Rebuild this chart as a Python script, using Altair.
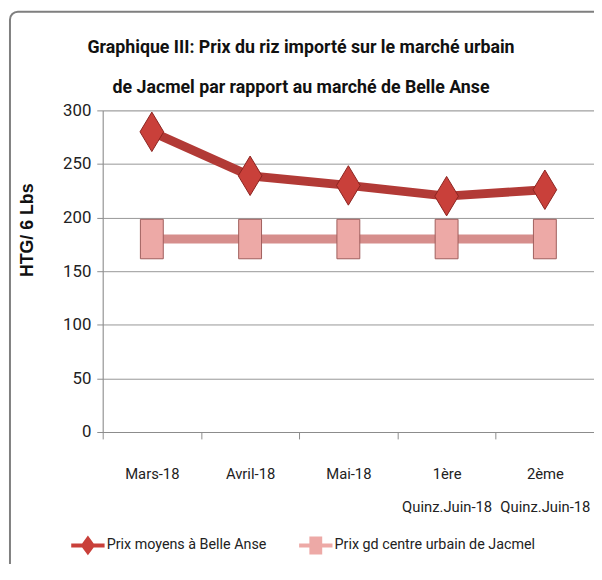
import altair as alt
import pandas as pd

categories = ["Mars-18", "Avril-18", "Mai-18", "1ère|Quinz.Juin-18", "2ème|Quinz.Juin-18"]
belle_anse = [280, 239, 230, 220, 226]
jacmel = [180, 180, 180, 180, 180]
series_names = ["Prix moyens à Belle Anse", "Prix gd centre urbain de Jacmel"]
line_colors = ["#B23A36", "#D68E8C"]
marker_fills = ["#C9403A", "#EDA9A6"]
marker_strokes = ["#8A2420", "#9E5D5B"]

FONT = "Roboto, sans-serif"

diamond = "M0,-1L0.6,0L0,1L-0.6,0Z"
rectangle = "M-0.58,-1L0.58,-1L0.58,1L-0.58,1Z"
leg_diamond = ("M-1.3,-0.15L-0.45,-0.15L0,-0.77L0.45,-0.15L1.3,-0.15L1.3,0.15"
               "L0.45,0.15L0,0.77L-0.45,0.15L-1.3,0.15Z")
leg_square = ("M-1.3,-0.15L-0.5,-0.15L-0.5,-0.7L0.5,-0.7L0.5,-0.15L1.3,-0.15L1.3,0.15"
              "L0.5,0.15L0.5,0.7L-0.5,0.7L-0.5,0.15L-1.3,0.15Z")

x_enc = alt.X(
    "cat:N",
    sort=categories,
    bandPosition=0.5,
    scale=alt.Scale(type="band", paddingInner=0, paddingOuter=0),
    axis=alt.Axis(
        title=None,
        labelExpr="split(datum.label, '|')",
        labelAngle=0,
        labelFont=FONT,
        labelFontSize=15,
        labelColor="#222222",
        labelPadding=28,
        labelLineHeight=34,
        tickBand="extent",
        tickSize=7,
        tickColor="#8C8C8C",
        domainColor="#8C8C8C",
        grid=False,
    ),
)
y_enc = alt.Y(
    "val:Q",
    scale=alt.Scale(domain=[0, 300]),
    axis=alt.Axis(
        values=[0, 50, 100, 150, 200, 250, 300],
        title="HTG/ 6 Lbs",
        titleFont="Liberation Sans, Arial, sans-serif",
        titleFontSize=18,
        titleFontWeight="bold",
        titleColor="#111111",
        titleAngle=270,
        titleX=-76,
        titleY=121,
        titleAlign="center",
        titleBaseline="middle",
        labelFont=FONT,
        labelFontSize=17,
        labelColor="#222222",
        labelPadding=6,
        tickSize=6,
        tickColor="#8C8C8C",
        domainColor="#8C8C8C",
        gridColor="#969696",
        gridWidth=1,
    ),
)


def series_layer(i, values, marker_path, legend_path, legend_x):
    df = pd.DataFrame({"cat": categories, "val": values, "series": [series_names[i]] * len(values)})
    base = alt.Chart(df)
    line = base.mark_line(strokeWidth=9, color=line_colors[i]).encode(x=x_enc, y=y_enc)
    pts = base.mark_point(
        filled=True, size=1600, opacity=1, strokeWidth=1, stroke=marker_strokes[i], shape=marker_path
    ).encode(
        x=x_enc,
        y=alt.Y("val:Q"),
        color=alt.Color(
            "series:N",
            scale=alt.Scale(domain=[series_names[i]], range=[marker_fills[i]]),
            legend=alt.Legend(
                title=None,
                orient="none",
                legendX=legend_x,
                legendY=428,
                labelFont=FONT,
                labelFontSize=14.5,
                labelColor="#222222",
                labelOffset=6,
                labelLimit=400,
                symbolSize=676,
                symbolType=legend_path,
                symbolStrokeWidth=0,
                symbolFillColor=line_colors[i],
                symbolOpacity=1,
            ),
        ),
    )
    return alt.layer(line, pts)


layer_a = series_layer(0, belle_anse, diamond, leg_diamond, -28)
layer_b = series_layer(1, jacmel, rectangle, leg_square, 203)

frame = alt.Chart(alt.Data(values=[{"a": 1}])).mark_rect(
    fill="transparent", stroke="#7F7F7F", strokeWidth=2, cornerRadius=8
).encode(
    x=alt.value(-94), x2=alt.value(640), y=alt.value(-100), y2=alt.value(640)
)

chart = alt.layer(frame, layer_b, layer_a).resolve_scale(
    color="independent"
).resolve_legend(color="independent").properties(
    width=498,
    height=326,
    padding={"left": 96, "top": 100, "right": 0, "bottom": 130},
    autosize=alt.AutoSizeParams(type="none"),
    title=alt.Title(
        ["Graphique III: Prix du riz importé sur le marché urbain",
         "de Jacmel par rapport au marché de Belle Anse"],
        font=FONT,
        fontSize=18,
        fontWeight="bold",
        color="#111111",
        anchor="middle",
        dx=-48,
        dy=95,
        lineHeight=40,
        offset=8,
    ),
).configure_view(stroke=None).configure(background="white")

chart.save("out.html", embed_options={"renderer": "svg", "actions": False})
